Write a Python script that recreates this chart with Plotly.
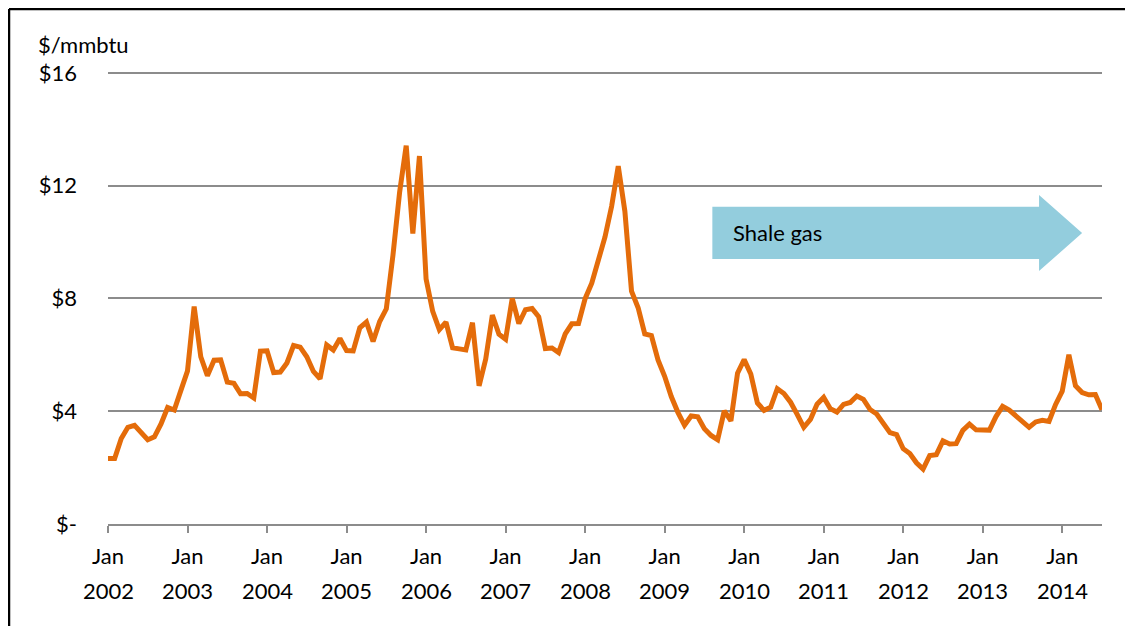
import plotly.graph_objects as go

# Henry Hub monthly prices, $/mmbtu, Jan 2002 - Jul 2014
prices_2002 = [2.32, 2.32, 3.03, 3.43, 3.50, 3.26, 2.99, 3.09, 3.55, 4.13, 4.04, 4.74]
prices_2003 = [5.43, 7.71, 5.93, 5.26, 5.81, 5.82, 5.03, 4.99, 4.62, 4.63, 4.47, 6.13]
prices_2004 = [6.14, 5.37, 5.39, 5.71, 6.33, 6.27, 5.93, 5.41, 5.15, 6.35, 6.17, 6.58]
prices_2005 = [6.15, 6.14, 6.96, 7.16, 6.47, 7.18, 7.63, 9.53, 11.75, 13.42, 10.30, 13.05]
prices_2006 = [8.69, 7.54, 6.89, 7.16, 6.25, 6.21, 6.17, 7.14, 4.90, 5.85, 7.41, 6.73]
prices_2007 = [6.55, 8.00, 7.11, 7.60, 7.64, 7.35, 6.22, 6.24, 6.08, 6.74, 7.10, 7.11]
prices_2008 = [7.99, 8.54, 9.41, 10.18, 11.27, 12.69, 11.09, 8.26, 7.67, 6.74, 6.68, 5.82]
prices_2009 = [5.24, 4.52, 3.96, 3.50, 3.83, 3.80, 3.38, 3.14, 2.99, 4.01, 3.66, 5.35]
prices_2010 = [5.83, 5.32, 4.29, 4.03, 4.14, 4.80, 4.63, 4.32, 3.89, 3.43, 3.71, 4.25]
prices_2011 = [4.49, 4.09, 3.97, 4.24, 4.31, 4.54, 4.42, 4.06, 3.90, 3.57, 3.24, 3.17]
prices_2012 = [2.67, 2.50, 2.17, 1.95, 2.43, 2.46, 2.95, 2.84, 2.85, 3.32, 3.54, 3.34]
prices_2013 = [3.33, 3.33, 3.81, 4.17, 4.04, 3.83, 3.62, 3.43, 3.62, 3.68, 3.64, 4.24]
prices_2014 = [4.71, 6.00, 4.90, 4.66, 4.58, 4.59, 4.05]

prices = (prices_2002 + prices_2003 + prices_2004 + prices_2005 + prices_2006 +
          prices_2007 + prices_2008 + prices_2009 + prices_2010 + prices_2011 +
          prices_2012 + prices_2013 + prices_2014)
month_index = list(range(len(prices)))

years = list(range(2002, 2015))
x_tickvals = [12 * i for i in range(len(years))]
x_tickmonth = ["Jan"] * len(years)
x_tickyear = [str(y) for y in years]

y_tickvals = [0, 4, 8, 12, 16]
y_ticktext = ["$-", "$4", "$8", "$12", "$16"]

# Shale gas arrow (in month-index / price coordinates)
arrow_x0, arrow_xb, arrow_xt = 91.2, 140.5, 147.0
arrow_ylo, arrow_yhi, head_lo, head_hi, arrow_ymid = 9.40, 11.25, 8.97, 11.67, 10.32

FONT = "Lato, Calibri, 'Open Sans', sans-serif"
GRID = "#8c8c8c"

# figure geometry (page is offset by the 8px body margin)
W, H = 1125, 618
ML, MR, MT, MB = 100, 31, 62, 102
PW, PH = W - ML - MR, H - MT - MB
AXIS_Y = H - MB  # pixel row of the x axis inside the figure

fig = go.Figure()
fig.add_trace(go.Scatter(
    x=month_index, y=prices, mode="lines",
    line=dict(color="#E46C0A", width=5),
    hoverinfo="skip", showlegend=False,
))

path = (f"M {arrow_x0},{arrow_ylo} L {arrow_xb},{arrow_ylo} L {arrow_xb},{head_lo} "
        f"L {arrow_xt},{arrow_ymid} L {arrow_xb},{head_hi} L {arrow_xb},{arrow_yhi} "
        f"L {arrow_x0},{arrow_yhi} Z")
fig.add_shape(type="path", path=path, xref="x", yref="y",
              fillcolor="#93CDDD", line=dict(width=0), layer="above")
fig.add_annotation(x=94.0, y=arrow_ymid, xref="x", yref="y", text="Shale gas",
                   showarrow=False, xanchor="left", yanchor="middle",
                   font=dict(family=FONT, size=22, color="#000000"))

# unit label
fig.add_annotation(x=(28 - ML) / PW, y=1 + (MT - 36) / PH, xref="paper", yref="paper",
                   text="$/mmbtu", showarrow=False, xanchor="left", yanchor="middle",
                   font=dict(family=FONT, size=22, color="#000000"))

# second line of the x tick labels (years)
for xv, yr in zip(x_tickvals, x_tickyear):
    fig.add_annotation(x=xv, y=-(582 - AXIS_Y) / PH, xref="x", yref="paper",
                       text=yr, showarrow=False, xanchor="center", yanchor="middle",
                       font=dict(family=FONT, size=22, color="#000000"))

fig.update_layout(
    width=W, height=H,
    margin=dict(l=ML, r=MR, t=MT, b=MB),
    paper_bgcolor="white", plot_bgcolor="white",
    font=dict(family=FONT, size=22, color="#000000"),
    showlegend=False,
    xaxis=dict(
        range=[0, 150], tickvals=x_tickvals, ticktext=x_tickmonth,
        showgrid=False, zeroline=False,
        showline=True, linecolor=GRID, linewidth=2,
        ticks="outside", ticklen=7, tickwidth=2, tickcolor=GRID,
        ticklabelstandoff=5,
        tickfont=dict(family=FONT, size=22),
    ),
    yaxis=dict(
        range=[0, 16.1], tickvals=y_tickvals, ticktext=y_ticktext,
        showgrid=True, gridcolor=GRID, gridwidth=2,
        zeroline=False, showline=False,
        ticks="", ticklabelstandoff=30,
        tickfont=dict(family=FONT, size=22),
    ),
)

# outer black frame: only the left and top edges fall inside the page
fx_left = (1.0 - ML) / PW
fy_top = 1 + (MT - 1.0) / PH
fig.add_shape(type="line", xref="paper", yref="paper",
              x0=fx_left, x1=fx_left, y0=fy_top, y1=-(H - AXIS_Y) / PH,
              line=dict(color="#000000", width=2.5))
fig.add_shape(type="line", xref="paper", yref="paper",
              x0=fx_left, x1=(W - ML) / PW, y0=fy_top, y1=fy_top,
              line=dict(color="#000000", width=2.5))

fig.write_html("out.html")
